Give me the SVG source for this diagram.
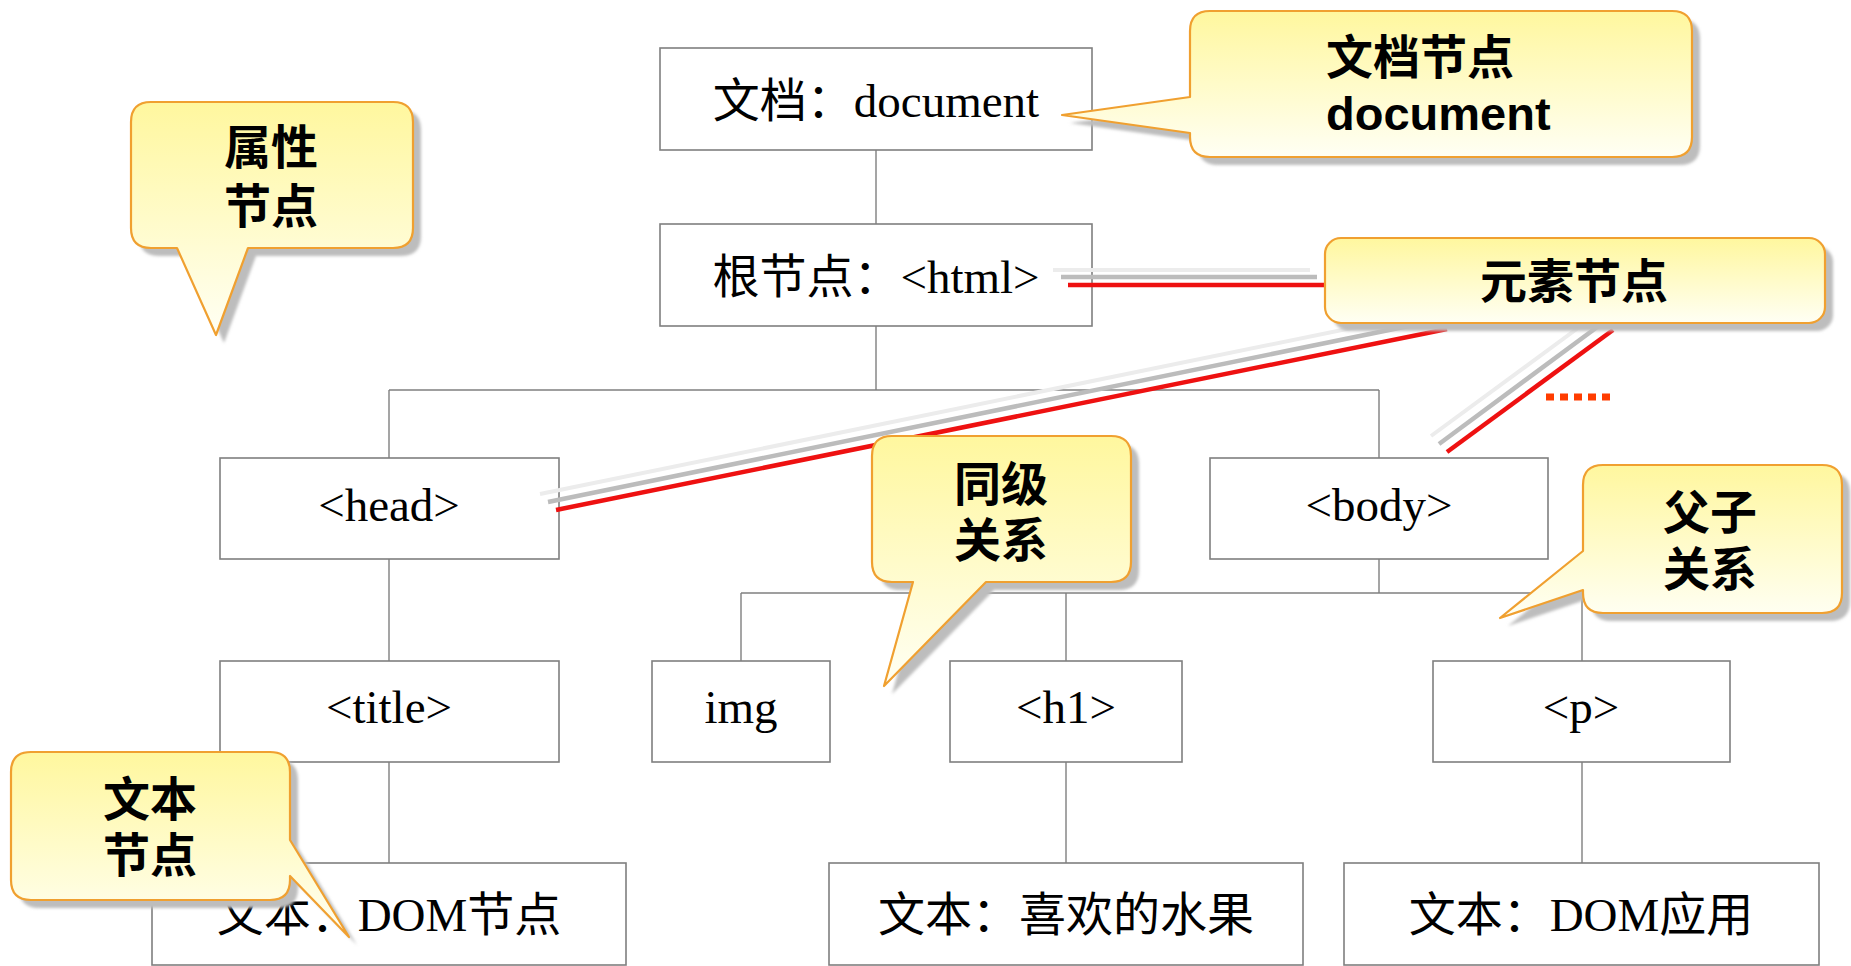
<svg xmlns="http://www.w3.org/2000/svg" width="1851" height="966" viewBox="0 0 1851 966">
<style>
.box{fill:#fff;stroke:#7f7f7f;stroke-width:1.6}
.tree{stroke:#7f7f7f;stroke-width:1.4;fill:none}
.lbl{font-family:"Liberation Serif","Noto Sans CJK SC",serif;font-size:47px;fill:#000;text-anchor:middle}
.co{fill:url(#cg);stroke:#f0a030;stroke-width:2.2;stroke-linejoin:round}
.sh{fill:#bdbdbd;filter:url(#blur)}
.ct{font-family:"Noto Sans CJK SC","Liberation Sans",sans-serif;font-weight:bold;font-size:47px;fill:#000;text-anchor:middle}
.red{stroke:#ee1111;stroke-width:4.5;fill:none}
.gr{stroke:#bcbcbc;stroke-width:4.5;fill:none}
.gr2{stroke:#ececec;stroke-width:4;fill:none}
</style>
<defs>
<linearGradient id="cg" x1="0" y1="0" x2="0" y2="1">
<stop offset="0" stop-color="#fff79e"/>
<stop offset="1" stop-color="#fffff4"/>
</linearGradient>
<filter id="blur" x="-10%" y="-10%" width="120%" height="120%"><feGaussianBlur stdDeviation="1.5"/></filter>
</defs>
<rect width="1851" height="966" fill="#fff"/>

<g id="connectors">
<line class="tree" x1="876" y1="150" x2="876" y2="224"/>
<line class="tree" x1="876" y1="326" x2="876" y2="390"/>
<line class="tree" x1="389" y1="390" x2="1379" y2="390"/>
<line class="tree" x1="389" y1="390" x2="389" y2="458"/>
<line class="tree" x1="1379" y1="390" x2="1379" y2="458"/>
<line class="tree" x1="389" y1="559" x2="389" y2="661"/>
<line class="tree" x1="389" y1="762" x2="389" y2="863"/>
<line class="tree" x1="1379" y1="559" x2="1379" y2="593"/>
<line class="tree" x1="741" y1="593" x2="1582" y2="593"/>
<line class="tree" x1="741" y1="593" x2="741" y2="661"/>
<line class="tree" x1="1066" y1="593" x2="1066" y2="661"/>
<line class="tree" x1="1582" y1="593" x2="1582" y2="661"/>
<line class="tree" x1="1066" y1="762" x2="1066" y2="863"/>
<line class="tree" x1="1582" y1="762" x2="1582" y2="863"/>
</g>

<g id="n-document"><rect class="box" x="660" y="48" width="432" height="102"/><text class="lbl" x="876" y="117">文档：document</text></g>
<g id="n-html"><rect class="box" x="660" y="224" width="432" height="102"/><text class="lbl" x="876" y="293">根节点：&lt;html&gt;</text></g>
<g id="n-head"><rect class="box" x="220" y="458" width="339" height="101"/><text class="lbl" x="389" y="521">&lt;head&gt;</text></g>
<g id="n-body"><rect class="box" x="1210" y="458" width="338" height="101"/><text class="lbl" x="1379" y="521">&lt;body&gt;</text></g>
<g id="n-title"><rect class="box" x="220" y="661" width="339" height="101"/><text class="lbl" x="389" y="723">&lt;title&gt;</text></g>
<g id="n-img"><rect class="box" x="652" y="661" width="178" height="101"/><text class="lbl" x="741" y="723">img</text></g>
<g id="n-h1"><rect class="box" x="950" y="661" width="232" height="101"/><text class="lbl" x="1066" y="723">&lt;h1&gt;</text></g>
<g id="n-p"><rect class="box" x="1433" y="661" width="297" height="101"/><text class="lbl" x="1581" y="723">&lt;p&gt;</text></g>
<g id="n-text1"><rect class="box" x="152" y="863" width="474" height="102"/><text class="lbl" x="389" y="931">文本：DOM节点</text></g>
<g id="n-text2"><rect class="box" x="829" y="863" width="474" height="102"/><text class="lbl" x="1066" y="931">文本：喜欢的水果</text></g>
<g id="n-text3"><rect class="box" x="1344" y="863" width="475" height="102"/><text class="lbl" x="1581" y="931">文本：DOM应用</text></g>

<g id="element-pointers">
<line class="gr2" x1="1053" y1="270" x2="1310" y2="270"/>
<line class="gr" x1="1061" y1="277" x2="1317" y2="277"/>
<line class="red" x1="1068" y1="285" x2="1326" y2="285"/>
<line class="gr2" x1="1430" y1="312" x2="540" y2="494"/>
<line class="gr" x1="1438" y1="320" x2="548" y2="502"/>
<line class="red" x1="1447" y1="329" x2="556" y2="510"/>
<line class="gr2" x1="1597" y1="314" x2="1431" y2="436"/>
<line class="gr" x1="1604" y1="322" x2="1439" y2="444"/>
<line class="red" x1="1613" y1="330" x2="1447" y2="452"/>
<line x1="1546" y1="397" x2="1614" y2="397" stroke="#ff3c00" stroke-width="7" stroke-dasharray="8 6"/>
</g>

<g id="c-attr">
<path id="p-attr" d="M151,102 H393 Q413,102 413,122 V228 Q413,248 393,248 H248 L216,335 L177,248 H151 Q131,248 131,228 V122 Q131,102 151,102 Z" class="sh" transform="translate(8,8)"/>
<path d="M151,102 H393 Q413,102 413,122 V228 Q413,248 393,248 H248 L216,335 L177,248 H151 Q131,248 131,228 V122 Q131,102 151,102 Z" class="co"/>
<text class="ct" x="271" y="164">属性</text><text class="ct" x="271" y="223">节点</text>
</g>

<g id="c-doc">
<path d="M1210,11 H1672 Q1692,11 1692,31 V137 Q1692,157 1672,157 H1210 Q1190,157 1190,137 V133 L1062,115 L1190,97 V31 Q1190,11 1210,11 Z" class="sh" transform="translate(8,8)"/>
<path d="M1210,11 H1672 Q1692,11 1692,31 V137 Q1692,157 1672,157 H1210 Q1190,157 1190,137 V133 L1062,115 L1190,97 V31 Q1190,11 1210,11 Z" class="co"/>
<text class="ct" x="1326" y="74" style="text-anchor:start">文档节点</text>
<text x="1326" y="130" style="font-family:'Liberation Sans',sans-serif;font-weight:bold;font-size:47px">document</text>
</g>

<g id="c-elem">
<rect x="1325" y="238" width="500" height="85" rx="16" class="sh" transform="translate(8,8)"/>
<rect x="1325" y="238" width="500" height="85" rx="16" class="co"/>
<text class="ct" x="1574" y="298">元素节点</text>
</g>

<g id="c-sib">
<path d="M892,436 H1111 Q1131,436 1131,456 V562 Q1131,582 1111,582 H986 L884,686 L913,582 H892 Q872,582 872,562 V456 Q872,436 892,436 Z" class="sh" transform="translate(8,8)"/>
<path d="M892,436 H1111 Q1131,436 1131,456 V562 Q1131,582 1111,582 H986 L884,686 L913,582 H892 Q872,582 872,562 V456 Q872,436 892,436 Z" class="co"/>
<text class="ct" x="1001" y="501">同级</text><text class="ct" x="1001" y="557">关系</text>
</g>

<g id="c-parent">
<path d="M1603,465 H1822 Q1842,465 1842,485 V593 Q1842,613 1822,613 H1603 Q1583,613 1583,593 V590 L1500,618 L1583,551 V485 Q1583,465 1603,465 Z" class="sh" transform="translate(8,8)"/>
<path d="M1603,465 H1822 Q1842,465 1842,485 V593 Q1842,613 1822,613 H1603 Q1583,613 1583,593 V590 L1500,618 L1583,551 V485 Q1583,465 1603,465 Z" class="co"/>
<text class="ct" x="1710" y="529">父子</text><text class="ct" x="1710" y="586">关系</text>
</g>

<g id="c-text">
<path d="M31,752 H270 Q290,752 290,772 V840 L349,937 L290,876 V880 Q290,900 270,900 H31 Q11,900 11,880 V772 Q11,752 31,752 Z" class="sh" transform="translate(8,8)"/>
<path d="M31,752 H270 Q290,752 290,772 V840 L349,937 L290,876 V880 Q290,900 270,900 H31 Q11,900 11,880 V772 Q11,752 31,752 Z" class="co"/>
<text class="ct" x="150" y="816">文本</text><text class="ct" x="150" y="872">节点</text>
</g>
</svg>
